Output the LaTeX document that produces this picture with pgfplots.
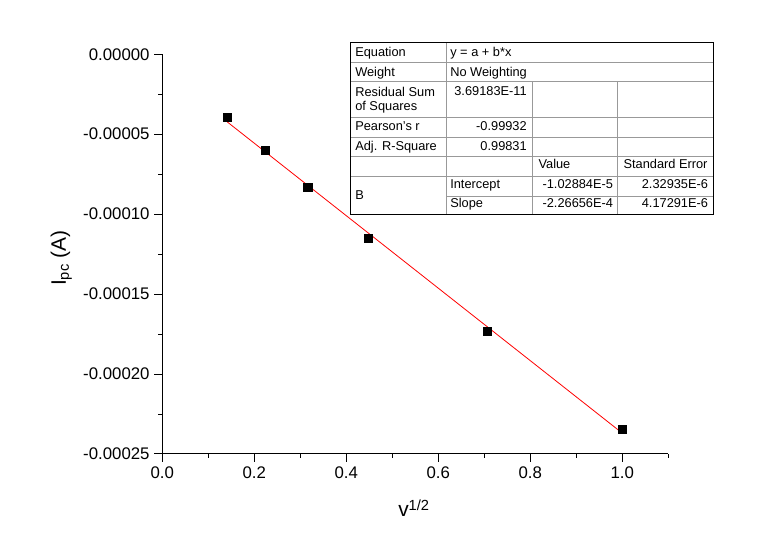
\documentclass[border=0pt]{standalone}
\usepackage{fontspec}
\setmainfont{Liberation Sans}
\usepackage{pgfplots}
\pgfplotsset{compat=1.18}
\begin{document}
\begin{tikzpicture}
\path[use as bounding box] (0,0) rectangle (581.25pt,406.5pt);
\begin{axis}[
 scale only axis, width=379.5pt, height=299.8pt,
 at={(121.7pt,66pt)}, anchor=south west,
 xmin=0, xmax=1.1, ymin=-0.00025, ymax=0,
 axis x line*=bottom, axis y line*=left,
 axis line style={-, line width=0.75pt},
 tick align=outside,
 major tick length=6pt, minor tick length=3pt,
 every tick/.style={black, line width=0.75pt},
 xtick={0,0.2,0.4,0.6,0.8,1.0},
 xticklabels={0.0,0.2,0.4,0.6,0.8,1.0},
 minor xtick={0.1,0.3,0.5,0.7,0.9,1.1},
 ytick={-0.00025,-0.0002,-0.00015,-0.0001,-0.00005,0},
 yticklabels={-0.00025,-0.00020,-0.00015,-0.00010,-0.00005,0.00000},
 minor ytick={-0.000225,-0.000175,-0.000125,-0.000075,-0.000025},
 scaled y ticks=false, scaled x ticks=false,
 tick label style={font=\fontsize{12.6}{15}\selectfont},
 clip=false,
]
\addplot[only marks, mark=square*, mark size=3.1pt, black] coordinates {(0.1414,-0.0000394) (0.2236,-0.0000600) (0.3162,-0.0000832) (0.4472,-0.0001149) (0.7071,-0.0001731) (1.0,-0.0002346)};
\addplot[red, line width=0.6pt, no marks] coordinates {(0.1414,-0.00004234) (1.0,-0.00023694)};
\end{axis}
\begin{scope}[x=0.75pt,y=-0.75pt,shift={(0pt,406.5pt)}]
\fill[white] (350,42.7) rectangle (713,215);
\draw[black!40, line width=0.6pt]
 (350,62.7)--(713,62.7) (350,81.7)--(713,81.7) (350,117.7)--(713,117.7)
 (350,137.7)--(713,137.7) (350,156.7)--(713,156.7) (350,176.7)--(713,176.7)
 (446,196.7)--(713,196.7)
 (446,42.7)--(446,215) (532.7,81.7)--(532.7,215) (617.3,81.7)--(617.3,215);
\draw[black, line width=0.75pt] (350,42.7) rectangle (713,215);
\begin{scope}[every node/.style={inner sep=0pt, font=\fontsize{9.6}{11.5}\selectfont}]
\node[anchor=base west] at (355,57) {Equation};
\node[anchor=base west] at (450,57) {y = a + b*x};
\node[anchor=base west] at (355,77) {Weight};
\node[anchor=base west] at (450,77) {No Weighting};
\node[anchor=base west] at (355,97) {Residual Sum};
\node[anchor=base west] at (355,110.5) {of Squares};
\node[anchor=base east] at (527,96) {3.69183E-11};
\node[anchor=base west] at (355,130.5) {Pearson's r};
\node[anchor=base east] at (527,130.5) {-0.99932};
\node[anchor=base west] at (355,150.5) {Adj. R-Square};
\node[anchor=base east] at (527,150.5) {0.99831};
\node[anchor=base west] at (538.3,169) {Value};
\node[anchor=base west] at (623.3,169) {Standard Error};
\node[anchor=base west] at (355,199.5) {B};
\node[anchor=base west] at (450,189) {Intercept};
\node[anchor=base east] at (613.3,189) {-1.02884E-5};
\node[anchor=base east] at (708.3,189) {2.32935E-6};
\node[anchor=base west] at (450,208) {Slope};
\node[anchor=base east] at (613.3,208) {-2.26656E-4};
\node[anchor=base east] at (708.3,208) {4.17291E-6};
\end{scope}
\node[rotate=90, anchor=base, inner sep=0pt, font=\fontsize{15.7}{18}\selectfont] at (66,258) {I\textsubscript{pc} (A)};
\node[anchor=base, inner sep=0pt, font=\fontsize{15.7}{18}\selectfont] at (414,517) {v\textsuperscript{1/2}};
\end{scope}
\end{tikzpicture}
\end{document}
